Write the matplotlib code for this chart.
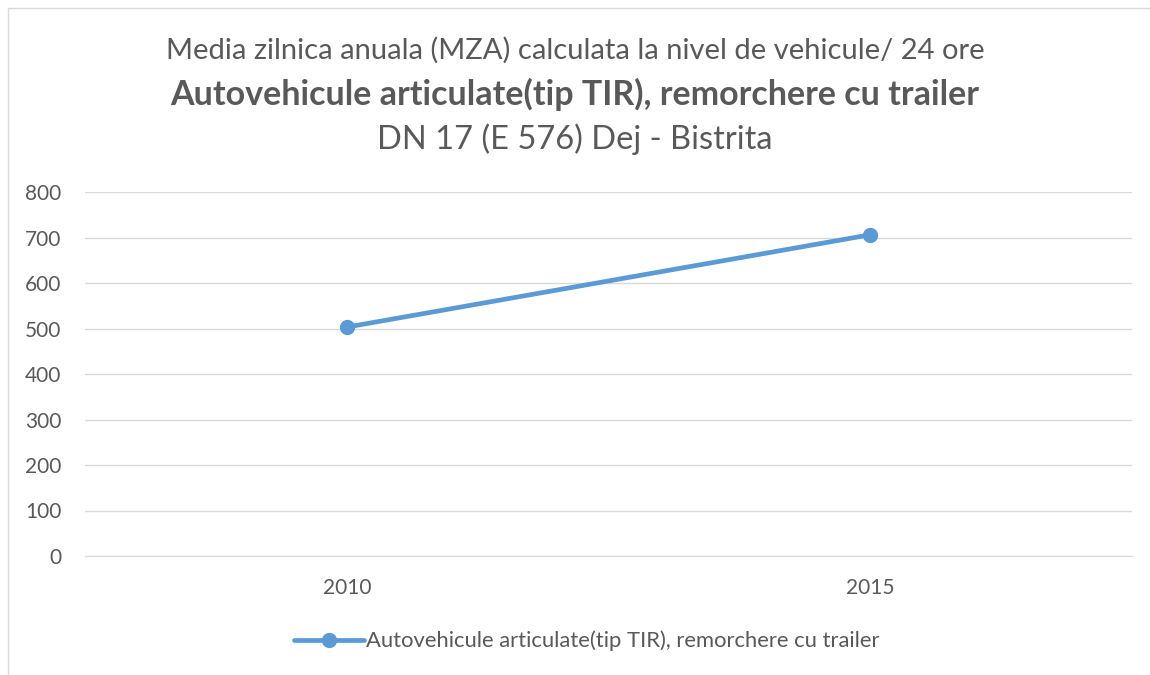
import matplotlib.pyplot as plt
import matplotlib.patches as patches

plt.rcParams['font.family'] = ['Lato', 'DejaVu Sans']

years = ['2010', '2015']
values = [503, 706]
series_name = 'Autovehicule articulate(tip TIR), remorchere cu trailer'
yticks = [0, 100, 200, 300, 400, 500, 600, 700, 800]

text_color = '#595959'
line_color = '#5b9bd5'

fig = plt.figure(figsize=(11.5, 6.75), dpi=100)
ax = fig.add_axes([85 / 1150, 1 - 556 / 675, (1132 - 85) / 1150, (556 - 192) / 675])

# chart border
fig.patches.append(patches.Rectangle((8 / 1150, -0.01), 1.1, 1 - 8 / 675 + 0.01,
                                     transform=fig.transFigure, fill=False,
                                     edgecolor='#d9d9d9', linewidth=1))

x = list(range(len(years)))
line, = ax.plot(x, values, color=line_color, linewidth=3.4, marker='o',
                markersize=10, solid_capstyle='round', label=series_name, zorder=3)

ax.set_xlim(-0.5, len(years) - 0.5)
ax.set_ylim(0, 800)
ax.set_yticks(yticks)
ax.set_xticks(x)
ax.set_xticklabels(years)
ax.yaxis.grid(True, color='#d9d9d9', linewidth=1)
ax.set_axisbelow(True)
for s in ['top', 'right', 'left']:
    ax.spines[s].set_visible(False)
ax.spines['bottom'].set_color('#d9d9d9')
ax.tick_params(axis='both', length=0, labelsize=15, colors=text_color)
ax.tick_params(axis='y', pad=17)
ax.tick_params(axis='x', pad=16)

fig.text(0.5, 1 - 50 / 675, 'Media zilnica anuala (MZA) calculata la nivel de vehicule/ 24 ore',
         ha='center', va='center', fontsize=21, color=text_color)
fig.text(0.5, 1 - 94 / 675, 'Autovehicule articulate(tip TIR), remorchere cu trailer',
         ha='center', va='center', fontsize=24.5, fontweight='bold', color=text_color)
fig.text(0.5, 1 - 139 / 675, 'DN 17 (E 576) Dej - Bistrita',
         ha='center', va='center', fontsize=23.5, color=text_color)

fig.legend(handles=[line], loc='center', bbox_to_anchor=(0.51, 1 - 641 / 675),
           frameon=False, fontsize=15.8, labelcolor=text_color,
           handlelength=3.2, handletextpad=0.1)

fig.savefig('out.png', dpi=100)
